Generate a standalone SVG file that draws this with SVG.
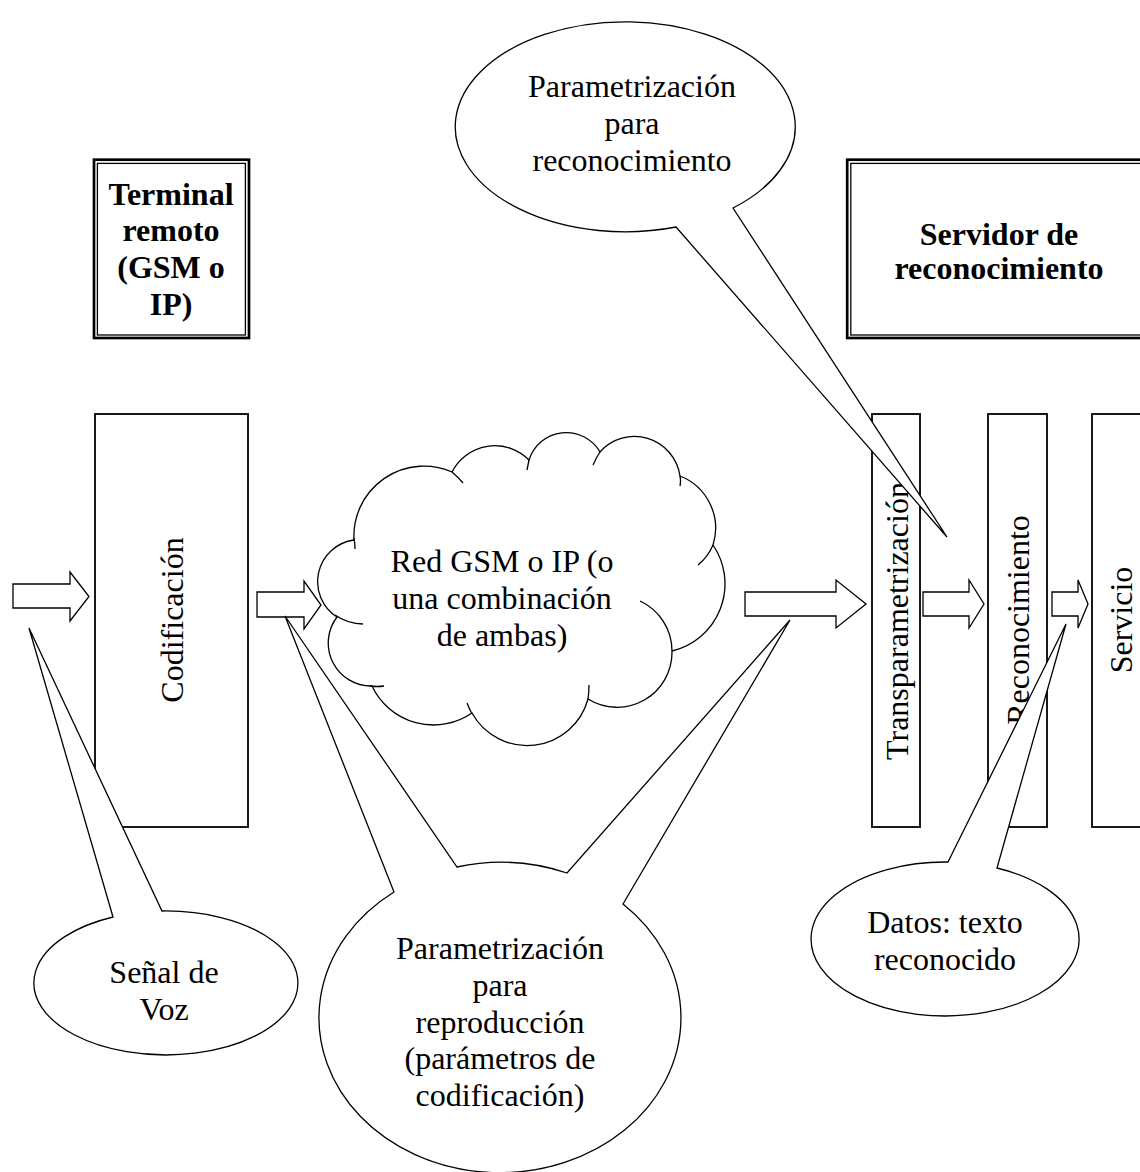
<svg xmlns="http://www.w3.org/2000/svg" width="1140" height="1172" viewBox="0 0 1140 1172">
<style>
text{font-family:"Liberation Serif","Times New Roman",serif;font-size:32px;fill:#000}
.b{font-weight:bold}
.box{fill:#fff;stroke:#000;stroke-width:1.8}
.outer{fill:#fff;stroke:#000;stroke-width:2.7}
.inner{fill:none;stroke:#000;stroke-width:1.3}
.arrow{fill:#fff;stroke:#000;stroke-width:1.3;stroke-linejoin:miter}
.shape{fill:#fff;stroke:#000;stroke-width:1.3;stroke-linejoin:miter}
.stub{fill:none;stroke:#000;stroke-width:1.3}
</style>
<rect width="1140" height="1172" fill="#fff"/>

<g id="terminal">
<rect class="outer" x="94" y="159.7" width="155" height="178.3"/>
<rect class="inner" x="97.4" y="163.4" width="148" height="171.6"/>
<text class="b" x="171" y="204.5" text-anchor="middle">Terminal</text>
<text class="b" x="171" y="241.3" text-anchor="middle">remoto</text>
<text class="b" x="171" y="278.1" text-anchor="middle">(GSM o</text>
<text class="b" x="171" y="314.9" text-anchor="middle">IP)</text>
</g>

<g id="servidor">
<rect class="outer" x="847.2" y="159.7" width="310" height="178.3"/>
<rect class="inner" x="850.8" y="163.4" width="300" height="171.6"/>
<text class="b" x="999" y="245" text-anchor="middle">Servidor de</text>
<text class="b" x="999" y="278.5" text-anchor="middle">reconocimiento</text>
</g>

<g id="codificacion">
<rect class="box" x="95" y="414" width="153" height="413"/>
<text transform="translate(171.5,620) rotate(-90)" x="0" y="11" text-anchor="middle">Codificación</text>
</g>

<g id="transparametrizacion">
<rect class="box" x="872" y="414" width="48" height="413"/>
<text transform="translate(896,621) rotate(-90)" x="0" y="11.5" text-anchor="middle">Transparametrización</text>
</g>

<g id="reconocimiento">
<rect class="box" x="988" y="414" width="59" height="413"/>
<text transform="translate(1017.5,620) rotate(-90)" x="0" y="11.5" text-anchor="middle">Reconocimiento</text>
</g>

<g id="servicio">
<rect class="box" x="1092" y="414" width="57" height="413"/>
<text transform="translate(1120.5,620) rotate(-90)" x="0" y="11.5" text-anchor="middle">Servicio</text>
</g>

<g id="connectors">
<polygon class="arrow" points="13,584 70,584 70,572 89,596.5 70,621 70,608 13,608"/>
<polygon class="arrow" points="257,592 304,592 304,581 321,605 304,629 304,617 257,617"/>
<polygon class="arrow" points="745,592 836,592 836,580 866,604 836,628 836,616 745,616"/>
<polygon class="arrow" points="923,592 969,592 969,580 984,604 969,628 969,616 923,616"/>
<polygon class="arrow" points="1052,592 1078,592 1078,580 1088,604 1078,628 1078,616 1052,616"/>
</g>

<g id="red">
<path class="shape" d="M354,540 A42,42 0 0 0 337,617 A43,43 0 0 0 372,686 A68,68 0 0 0 472,713 A63,63 0 0 0 588,699 A55,55 0 0 0 672,651 A69,69 0 0 0 713,545 A56,56 0 0 0 680,476 A46,46 0 0 0 600,452 A39,39 0 0 0 529,460 A48,48 0 0 0 452,472 A70,70 0 0 0 354,540 Z"/>
<path class="stub" d="M354,538 Q355,544 355,549 M335,615 Q348,624 363,624 M370,686 Q377,687 384,686 M472,714 Q469,708 467,703 M588,699 Q589,692 589,685 M672,651 A55,55 0 0 0 640,601 M713,545 Q708,557 698,565 M680,476 Q681,481 680,486 M600,452 Q596,458 593,465 M529,460 Q528,465 527,470 M452,472 Q458,477 463,483"/>
<text x="502" y="572" text-anchor="middle">Red GSM o IP (o</text>
<text x="502" y="608.8" text-anchor="middle">una combinación</text>
<text x="502" y="645.6" text-anchor="middle">de ambas)</text>
</g>

<g id="callout-reconocimiento">
<path class="shape" d="M676,227 L947,537 L733,208 A170,105 0 1 0 676,227 Z"/>
<text x="632" y="97" text-anchor="middle">Parametrización</text>
<text x="632" y="133.8" text-anchor="middle">para</text>
<text x="632" y="170.6" text-anchor="middle">reconocimiento</text>
</g>

<g id="callout-voz">
<path class="shape" d="M113,917 L29,628 L162,911 A132,72 0 1 1 113,917 Z"/>
<text x="164" y="983" text-anchor="middle">Señal de</text>
<text x="164" y="1020" text-anchor="middle">Voz</text>
</g>

<g id="callout-reproduccion">
<path class="shape" d="M394,892 L285,616 L457,867 A181,155 0 0 1 567,873 L790,620 L623,904 A181,155 0 1 1 394,892 Z"/>
<text x="500" y="959" text-anchor="middle">Parametrización</text>
<text x="500" y="995.8" text-anchor="middle">para</text>
<text x="500" y="1032.6" text-anchor="middle">reproducción</text>
<text x="500" y="1069.4" text-anchor="middle">(parámetros de</text>
<text x="500" y="1106.2" text-anchor="middle">codificación)</text>
</g>

<g id="callout-datos">
<path class="shape" d="M948,862 L1066,624 L997,868 A134,77 0 1 1 948,862 Z"/>
<text x="945" y="933" text-anchor="middle">Datos: texto</text>
<text x="945" y="969.8" text-anchor="middle">reconocido</text>
</g>
</svg>
